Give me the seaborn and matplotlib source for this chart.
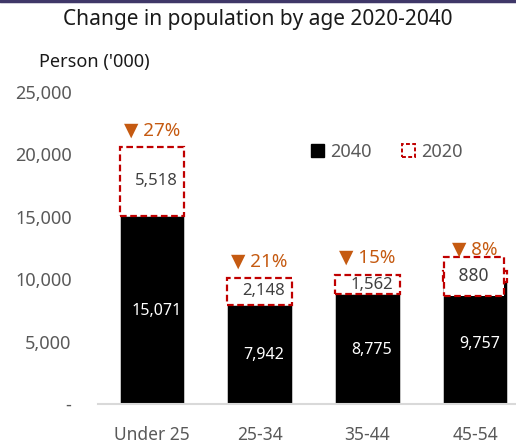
import matplotlib
matplotlib.use("Agg")
import matplotlib.pyplot as plt
import matplotlib.lines as mlines
from matplotlib.patches import Patch
import seaborn as sns
import pandas as pd

# Population by age group, thousands of persons
age_groups = ["Under 25", "25-34", "35-44", "45-54"]
pop_2040 = [15071, 7942, 8775, 9757]
decline = [5518, 2148, 1562, 880]
decline_pct = [27, 21, 15, 8]
y_ticks = [0, 5000, 10000, 15000, 20000, 25000]
y_tick_labels = ["-", "5,000", "10,000", "15,000", "20,000", "25,000"]

pop_2020 = [a + b for a, b in zip(pop_2040, decline)]

sns.set_theme(style="white")
plt.rcParams["font.family"] = ["Noto Sans", "DejaVu Sans"]

BLACK = "#000000"
RED = "#c00000"
ORANGE = "#c55a11"
GREY_TXT = "#595959"
DASH = (0, (3, 1.6))

W, H = 516, 442
fig = plt.figure(figsize=(W / 100, H / 100), dpi=100)
ax = fig.add_axes([98 / W, (H - 404) / H, (516 - 98) / W, (404 - 92) / H])

df = pd.DataFrame({"age": age_groups, "pop": pop_2040})
sns.barplot(data=df, x="age", y="pop", color=BLACK, width=0.6,
            edgecolor="#cfcfcf", linewidth=0.6, ax=ax, zorder=2)
for p in ax.patches:
    p.set_facecolor(BLACK)

# dashed boxes for the gap between 2040 and 2020
x = range(len(age_groups))
ax.bar(x, decline, bottom=pop_2040, width=0.6, facecolor="none",
       edgecolor=RED, linestyle=DASH, linewidth=1.6, zorder=3)

ax.set_xlim(-0.5, 3.38)
ax.set_ylim(0, 25000)
ax.set_yticks(y_ticks)
ax.set_yticklabels(y_tick_labels)
ax.set_xlabel("")
ax.set_ylabel("")
ax.tick_params(axis="y", length=0, pad=19, labelsize=13, labelcolor=GREY_TXT)
ax.tick_params(axis="x", length=0, pad=15.5, labelsize=12.5, labelcolor=GREY_TXT)
for s in ["top", "right", "left"]:
    ax.spines[s].set_visible(False)
ax.spines["bottom"].set_color("#d9d9d9")
ax.spines["bottom"].set_linewidth(1.5)

for i in x:
    ax.text(i + 0.04, pop_2040[i] / 2 - 60, f"{pop_2040[i]:,}", ha="center", va="center",
            color="white", fontsize=11.5, zorder=4)
    mid = pop_2040[i] + decline[i] / 2
    if i == 3:
        ax.text(i - 0.01, mid + 20, f" {decline[i]:,} ", ha="center", va="center",
                color="#404040", fontsize=12.5, zorder=5,
                bbox=dict(boxstyle="square,pad=0.62", facecolor="white",
                          edgecolor=RED, linestyle=DASH, linewidth=1.6))
    else:
        ax.text(i + 0.04, mid, f"{decline[i]:,}", ha="center", va="center",
                color="#404040", fontsize=12, zorder=5)
    ax.text(i, pop_2020[i] + 1350 + (400 if i == 3 else 0), f"▼ {decline_pct[i]}%",
            ha="center", va="center", color=ORANGE, fontsize=13.5, zorder=5)

handles = [Patch(facecolor=BLACK, edgecolor=BLACK),
           Patch(facecolor="none", edgecolor=RED, linestyle=(0, (2, 1.2)), linewidth=1.4)]
ax.legend(handles, ["2040", "2020"], loc="center left", bbox_to_anchor=(0.47, 0.808),
          ncol=2, frameon=False, fontsize=13, labelcolor=GREY_TXT,
          handlelength=0.75, handleheight=0.75, handletextpad=0.3, columnspacing=1.7)

fig.text(258 / W, 1 - 19 / H, "Change in population by age 2020-2040", ha="center",
         va="center", fontsize=15, color="#1a1a1a")
fig.text(39 / W, 1 - 62 / H, "Person ('000)", ha="left", va="center", fontsize=13,
         color="#1a1a1a")

# thin band across the top edge
fig.add_artist(mlines.Line2D([0, 1], [1 - 1 / H, 1 - 1 / H], transform=fig.transFigure,
                             color="#3f3768", linewidth=2.5))

fig.savefig("out.png", dpi=100)
